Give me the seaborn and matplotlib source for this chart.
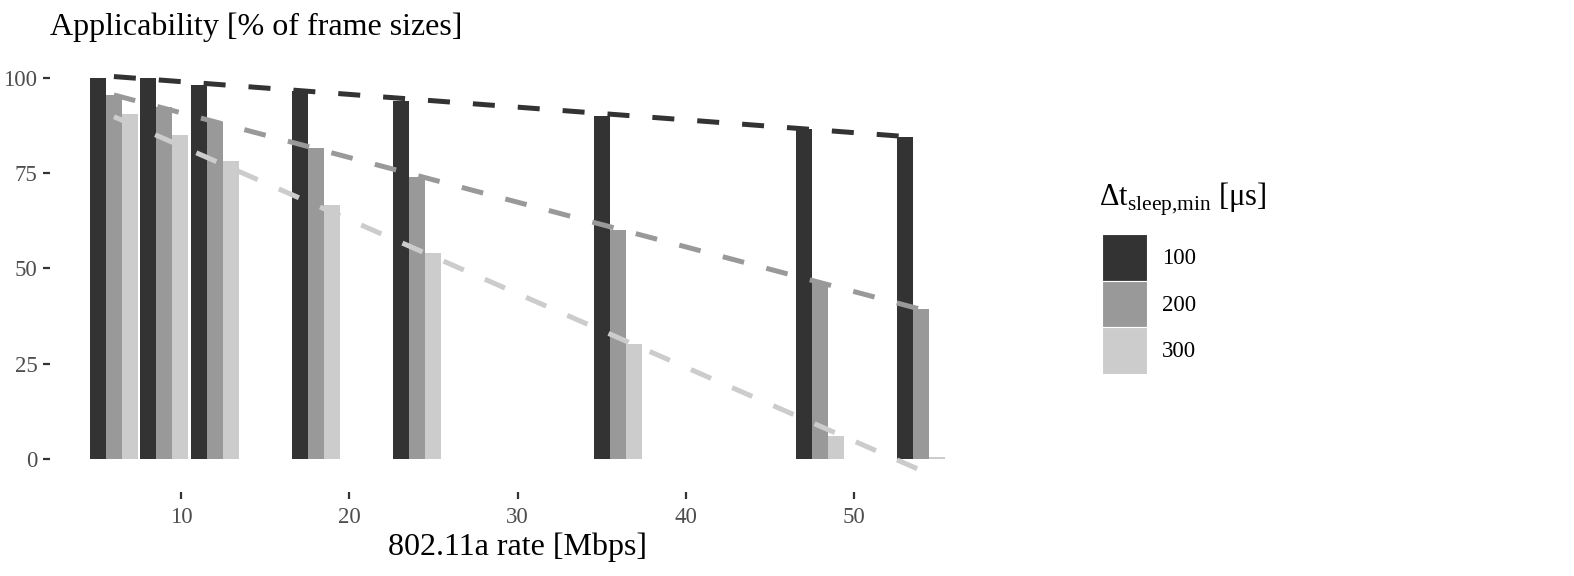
import pandas as pd
import matplotlib
matplotlib.use('Agg')
import matplotlib.pyplot as plt
import seaborn as sns
from matplotlib.patches import Patch

# --- Data ---
rates = [6, 9, 12, 18, 24, 36, 48, 54]
sleep_levels = ['100', '200', '300']
sleep_100 = [100.0, 100.0, 98.3, 96.7, 94.0, 90.1, 86.5, 84.4]
sleep_200 = [95.5, 92.5, 88.5, 81.6, 73.9, 60.1, 46.5, 39.4]
sleep_300 = [90.5, 85.0, 78.3, 66.7, 54.0, 30.1, 6.1, 0.5]
y_ticks = [0, 25, 50, 75, 100]
x_ticks = [10, 20, 30, 40, 50]

colors = {'100': '#333333', '200': '#999999', '300': '#CCCCCC'}

rows = []
for level, vals in zip(sleep_levels, [sleep_100, sleep_200, sleep_300]):
    for r, v in zip(rates, vals):
        rows.append({'rate': r, 'sleep': level, 'value': v})
df = pd.DataFrame(rows)

# --- Style ---
sns.set_style('white')
plt.rcParams['font.family'] = ['Liberation Serif', 'DejaVu Serif']
plt.rcParams['mathtext.fontset'] = 'custom'
plt.rcParams['mathtext.rm'] = 'Liberation Serif'
plt.rcParams['text.color'] = 'black'

fig = plt.figure(figsize=(15.74, 5.76), dpi=100)
ax = fig.add_axes([50 / 1574, (576 - 492) / 576, (985 - 50) / 1574, (492 - 56) / 576])

sns.barplot(data=df, x='rate', y='value', hue='sleep', hue_order=sleep_levels,
            palette=colors, native_scale=True, width=0.95, gap=0,
            linewidth=0, errorbar=None, legend=False, ax=ax)

# linear trend per group, drawn over the bars
for level in sleep_levels:
    sub = df[df['sleep'] == level]
    sns.regplot(data=sub, x='rate', y='value', scatter=False, ci=None, truncate=True,
                color=colors[level], ax=ax,
                line_kws=dict(linestyle=(0, (4.4, 4.6)), linewidth=3.6, zorder=5))

ax.set_xlim(2.2, 57.8)
ax.set_ylim(-8.7, 105.8)
ax.set_xticks(x_ticks)
ax.set_yticks(y_ticks)
ax.set_xlabel('')
ax.set_ylabel('')
for s in ax.spines.values():
    s.set_visible(False)
ax.tick_params(axis='both', which='both', length=5, width=1.6, color='#333333',
               labelcolor='#4D4D4D', labelsize=16.5, pad=4)
ax.tick_params(axis='x', bottom=True, pad=6)
ax.tick_params(axis='y', left=True)

fig.text(50 / 1574, 1 - 27 / 576, 'Applicability [% of frame sizes]',
         fontsize=23, ha='left', va='center')
fig.text(517 / 1574, 1 - 547 / 576, '802.11a rate [Mbps]',
         fontsize=23, ha='center', va='center')

# legend: title as separate text, keys below
fig.text(1099 / 1574, 1 - 199 / 576, 'Δt$_{\\mathrm{sleep{,}min}}$ [μs]',
         fontsize=22, ha='left', va='center')
handles = [Patch(facecolor=colors[l], edgecolor='white', linewidth=0.8, label=l)
           for l in sleep_levels]
fig.legend(handles=handles, loc='upper left',
           bbox_to_anchor=(1102 / 1574, 1 - 234 / 576),
           frameon=False, fontsize=16.5,
           handlelength=1.95, handleheight=2.75, labelspacing=0.0,
           handletextpad=0.65, borderpad=0, borderaxespad=0)

fig.savefig('out.png', dpi=100)
